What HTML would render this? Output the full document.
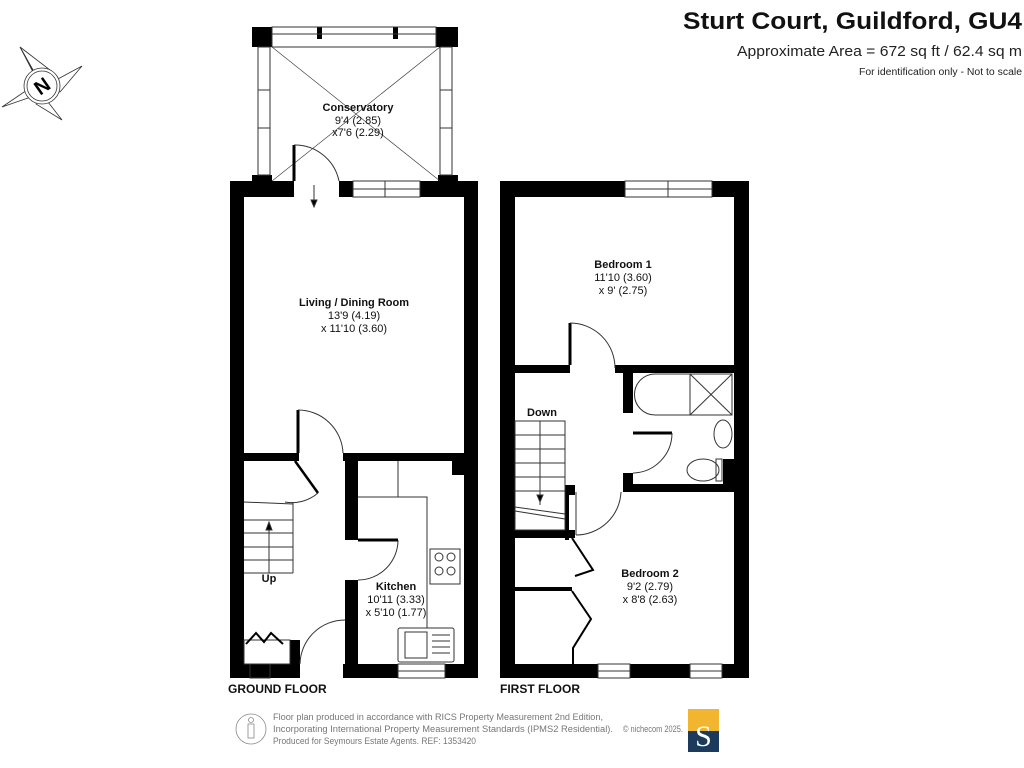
<!DOCTYPE html>
<html><head><meta charset="utf-8"><style>
html,body{margin:0;padding:0;background:#fff;}
svg{display:block;font-family:"Liberation Sans",Arial,sans-serif;}
</style></head><body>
<svg width="1024" height="768" viewBox="0 0 1024 768" xmlns="http://www.w3.org/2000/svg">
<rect width="1024" height="768" fill="#fff"/>
<!-- Header -->
<text x="1022" y="29" text-anchor="end" font-size="24" font-weight="bold" fill="#111" textLength="339" lengthAdjust="spacingAndGlyphs">Sturt Court, Guildford, GU4</text>
<text x="1022" y="56" text-anchor="end" font-size="15" fill="#222" textLength="285" lengthAdjust="spacingAndGlyphs">Approximate Area = 672 sq ft / 62.4 sq m</text>
<text x="1022" y="75" text-anchor="end" font-size="10" fill="#222" textLength="163" lengthAdjust="spacingAndGlyphs">For identification only - Not to scale</text>

<!-- Compass -->
<g stroke="#333" stroke-width="0.8" fill="#fff">
<polygon points="20,47 50,70 42,86"/>
<polygon points="20,47 34,74 42,86" fill="#000"/>
<polygon points="82,66 56,80 42,86 60,92"/>
<polygon points="62,120 48,102 42,86 36,104"/>
<polygon points="2,107 30,88 42,86 28,98"/>
<circle cx="42" cy="86" r="18"/>
<circle cx="42" cy="86" r="15"/>
</g>
<text x="42" y="93" text-anchor="middle" font-size="20" font-weight="bold" transform="rotate(-35 42 86)">N</text>

<!-- GROUND FLOOR -->
<g fill="#000">
<rect x="252" y="27" width="20" height="20"/>
<rect x="436" y="27" width="22" height="20"/>
<rect x="317" y="27" width="5" height="12"/>
<rect x="393" y="27" width="5" height="12"/>
<rect x="230" y="181" width="14" height="497"/>
<rect x="464" y="181" width="14" height="497"/>
<rect x="230" y="181" width="64" height="16"/>
<rect x="339" y="181" width="14" height="16"/>
<rect x="420" y="181" width="58" height="16"/>
<rect x="252" y="175" width="20" height="8"/>
<rect x="438" y="175" width="20" height="8"/>
<rect x="230" y="664" width="70" height="14"/>
<rect x="343" y="664" width="55" height="14"/>
<rect x="445" y="664" width="33" height="14"/>
<rect x="244" y="453" width="55" height="8"/>
<rect x="343" y="453" width="121" height="8"/>
<rect x="345" y="453" width="13" height="87"/>
<rect x="345" y="580" width="13" height="84"/>
<rect x="290" y="640" width="10" height="24"/>
<rect x="452" y="461" width="12" height="14"/>
</g>
<g fill="none" stroke="#333" stroke-width="1">
<rect x="272" y="27" width="164" height="20"/>
<line x1="272" y1="34" x2="436" y2="34"/>
<rect x="258" y="47" width="12" height="128"/>
<rect x="440" y="47" width="12" height="128"/>
<line x1="258" y1="90" x2="270" y2="90"/><line x1="258" y1="128" x2="270" y2="128"/>
<line x1="440" y1="90" x2="452" y2="90"/><line x1="440" y1="128" x2="452" y2="128"/>
<line x1="272" y1="47" x2="440" y2="181" stroke-width="0.6"/>
<line x1="440" y1="47" x2="272" y2="181" stroke-width="0.6"/>
<rect x="353" y="181" width="67" height="16"/>
<line x1="353" y1="189" x2="420" y2="189"/>
<line x1="385" y1="181" x2="385" y2="197"/>
<line x1="294" y1="145" x2="294" y2="181" stroke="#000" stroke-width="3"/>
<path d="M294 145 A45 45 0 0 1 339 181"/>
<line x1="314" y1="185" x2="314" y2="205"/>
<polygon points="311,200 317,200 314,207" fill="#000"/>
<line x1="298" y1="410" x2="298" y2="453" stroke="#000" stroke-width="3"/>
<path d="M298 410 A45 45 0 0 1 343 453"/>
<line x1="295" y1="461" x2="318" y2="493" stroke="#000" stroke-width="2.5"/>
<path d="M318 493 A40 40 0 0 1 285 502"/>
<line x1="244" y1="502" x2="293" y2="504"/>
<line x1="293" y1="502" x2="293" y2="573"/>
<line x1="244" y1="520" x2="293" y2="520"/>
<line x1="244" y1="533" x2="293" y2="533"/>
<line x1="244" y1="547" x2="293" y2="547"/>
<line x1="244" y1="560" x2="293" y2="560"/>
<line x1="244" y1="573" x2="293" y2="573"/>
<line x1="269" y1="525" x2="269" y2="573"/>
<polygon points="266,530 272,530 269,522" fill="#000"/>
<path d="M300 664 A45 45 0 0 1 345 620"/>
<path d="M358 580 A40 40 0 0 0 398 540"/>
<line x1="358" y1="540" x2="398" y2="540" stroke="#000" stroke-width="3"/>
<polyline points="398,461 398,497 427,497 427,628"/>
<line x1="398" y1="497" x2="358" y2="497"/>
<rect x="430" y="549" width="30" height="35"/>
<circle cx="439" cy="557" r="4"/><circle cx="451" cy="557" r="4"/>
<circle cx="439" cy="571" r="4"/><circle cx="451" cy="571" r="4"/>
<rect x="398" y="628" width="56" height="34" rx="2"/>
<rect x="405" y="632" width="22" height="26"/>
<line x1="432" y1="635" x2="450" y2="635"/><line x1="432" y1="641" x2="450" y2="641"/><line x1="432" y1="647" x2="450" y2="647"/><line x1="432" y1="653" x2="450" y2="653"/>
<rect x="398" y="664" width="47" height="14"/>
<line x1="398" y1="671" x2="445" y2="671"/>
<rect x="244" y="640" width="46" height="24"/>
<polyline points="246,644 256,633 264,642 271,633 283,644" stroke="#000" stroke-width="2"/>
<rect x="250" y="664" width="20" height="14"/>
</g>
<g text-anchor="middle" fill="#111">
<text x="358" y="111" font-size="11" font-weight="bold">Conservatory</text>
<text x="358" y="124" font-size="11">9'4 (2.85)</text>
<text x="358" y="136" font-size="11">x7'6 (2.29)</text>
<text x="354" y="306" font-size="11" font-weight="bold">Living / Dining Room</text>
<text x="354" y="319" font-size="11">13'9 (4.19)</text>
<text x="354" y="332" font-size="11">x 11'10 (3.60)</text>
<text x="269" y="582" font-size="11" font-weight="bold">Up</text>
<text x="396" y="590" font-size="11" font-weight="bold">Kitchen</text>
<text x="396" y="603" font-size="11">10'11 (3.33)</text>
<text x="396" y="616" font-size="11">x 5'10 (1.77)</text>
</g>
<text x="228" y="693" font-size="12" font-weight="bold" fill="#111">GROUND FLOOR</text>

<!-- FIRST FLOOR -->
<g fill="#000">
<rect x="500" y="181" width="15" height="497"/>
<rect x="734" y="181" width="15" height="497"/>
<rect x="500" y="181" width="125" height="16"/>
<rect x="712" y="181" width="37" height="16"/>
<rect x="500" y="664" width="98" height="14"/>
<rect x="630" y="664" width="60" height="14"/>
<rect x="722" y="664" width="27" height="14"/>
<rect x="515" y="365" width="55" height="8"/>
<rect x="615" y="365" width="119" height="8"/>
<rect x="623" y="365" width="10" height="48"/>
<rect x="623" y="473" width="10" height="19"/>
<rect x="623" y="484" width="111" height="8"/>
<rect x="723" y="459" width="11" height="30"/>
<rect x="565" y="485" width="10" height="10"/>
<rect x="565" y="485" width="4" height="55"/>
<rect x="515" y="530" width="60" height="8"/>
<rect x="515" y="587" width="57" height="4"/>
</g>
<g fill="none" stroke="#333" stroke-width="1">
<rect x="625" y="181" width="87" height="16"/>
<line x1="625" y1="189" x2="712" y2="189"/>
<line x1="668" y1="181" x2="668" y2="197"/>
<rect x="598" y="664" width="32" height="14"/><line x1="598" y1="671" x2="630" y2="671"/>
<rect x="690" y="664" width="32" height="14"/><line x1="690" y1="671" x2="722" y2="671"/>
<line x1="570" y1="323" x2="570" y2="365" stroke="#000" stroke-width="3"/>
<path d="M570 323 A45 45 0 0 1 615 368"/>
<line x1="633" y1="433" x2="672" y2="433" stroke="#000" stroke-width="3"/>
<path d="M672 433 A40 40 0 0 1 633 473"/>
<line x1="576" y1="492" x2="576" y2="535"/>
<path d="M576 535 A45 45 0 0 0 621 492"/>
<path d="M655 374 H732 V415 H655 A20 20 0 0 1 655 374 Z"/>
<line x1="690" y1="374" x2="732" y2="415"/><line x1="732" y1="374" x2="690" y2="415"/>
<line x1="690" y1="374" x2="690" y2="415"/>
<ellipse cx="723" cy="434" rx="9" ry="14"/>
<ellipse cx="703" cy="470" rx="16" ry="11"/>
<rect x="716" y="459" width="6" height="22"/>
<rect x="515" y="421" width="50" height="109"/>
<line x1="540" y1="421" x2="540" y2="505"/>
<line x1="515" y1="435" x2="565" y2="435"/><line x1="515" y1="449" x2="565" y2="449"/>
<line x1="515" y1="463" x2="565" y2="463"/><line x1="515" y1="477" x2="565" y2="477"/>
<line x1="515" y1="491" x2="565" y2="491"/>
<line x1="515" y1="507" x2="565" y2="514"/><line x1="515" y1="511" x2="565" y2="519"/>
<polygon points="537,495 543,495 540,502" fill="#000"/>
<polyline points="572,538 593,570 575,576" stroke="#000" stroke-width="2"/>
<polyline points="572,591 591,619 573,648 573,664" stroke="#000" stroke-width="2"/>
</g>
<g text-anchor="middle" fill="#111">
<text x="623" y="268" font-size="11" font-weight="bold">Bedroom 1</text>
<text x="623" y="281" font-size="11">11'10 (3.60)</text>
<text x="623" y="294" font-size="11">x 9' (2.75)</text>
<text x="542" y="416" font-size="11" font-weight="bold">Down</text>
<text x="650" y="577" font-size="11" font-weight="bold">Bedroom 2</text>
<text x="650" y="590" font-size="11">9'2 (2.79)</text>
<text x="650" y="603" font-size="11">x 8'8 (2.63)</text>
</g>
<text x="500" y="693" font-size="12" font-weight="bold" fill="#111">FIRST FLOOR</text>

<!-- Footer -->
<circle cx="251" cy="729" r="15" fill="none" stroke="#888" stroke-width="0.8"/>
<circle cx="251" cy="720" r="2.5" fill="none" stroke="#888" stroke-width="0.8"/>
<rect x="248" y="724" width="6" height="14" fill="none" stroke="#888" stroke-width="0.8"/>
<g font-size="9" fill="#777">
<text x="273" y="720" textLength="330" lengthAdjust="spacingAndGlyphs">Floor plan produced in accordance with RICS Property Measurement 2nd Edition,</text>
<text x="273" y="732" textLength="340" lengthAdjust="spacingAndGlyphs">Incorporating International Property Measurement Standards (IPMS2 Residential).</text>
<text x="273" y="744" textLength="203" lengthAdjust="spacingAndGlyphs">Produced for Seymours Estate Agents.   REF: 1353420</text>
<text x="623" y="732" textLength="60" lengthAdjust="spacingAndGlyphs">© nichecom 2025.</text>
</g>
<rect x="688" y="709" width="31" height="22" fill="#f2b530"/>
<rect x="688" y="731" width="31" height="21" fill="#1b3a5c"/>
<text x="703.5" y="746" text-anchor="middle" font-family="Liberation Serif,serif" font-size="30" fill="#fff">S</text>
</svg>
</body></html>
